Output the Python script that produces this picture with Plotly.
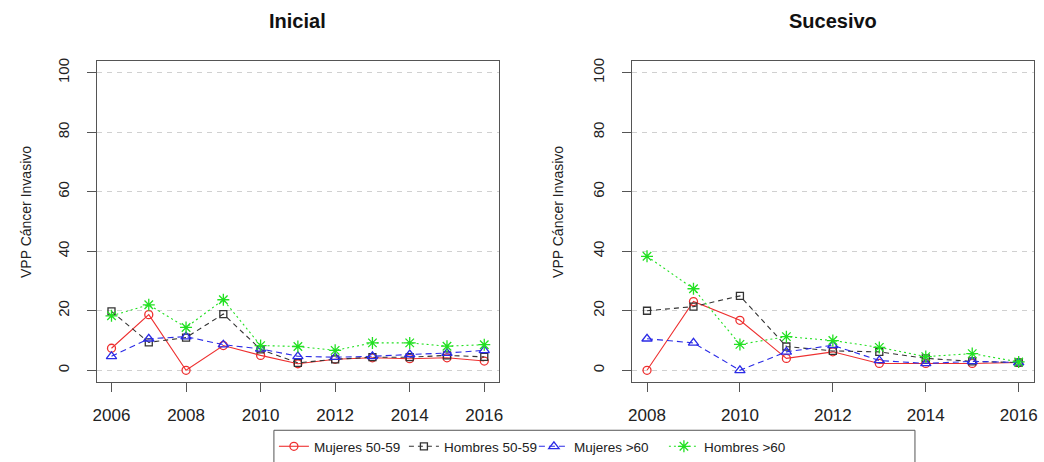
import plotly.graph_objects as go

W, H = 1044, 462

# Years per panel
years_inicial = [2006, 2007, 2008, 2009, 2010, 2011, 2012, 2013, 2014, 2015, 2016]
years_sucesivo = [2008, 2009, 2010, 2011, 2012, 2013, 2014, 2015, 2016]

# VPP (%) — cribado inicial
ini_mujeres_50_59 = [7.4, 18.7, 0.0, 8.3, 5.0, 2.2, 3.7, 4.2, 3.9, 4.2, 3.1]
ini_hombres_50_59 = [19.8, 9.4, 11.0, 18.9, 7.0, 2.5, 3.7, 4.4, 4.4, 5.0, 4.5]
ini_mujeres_60 = [4.7, 10.6, 11.3, 8.6, 7.2, 4.7, 4.4, 4.7, 5.3, 5.8, 6.7]
ini_hombres_60 = [18.3, 22.0, 14.4, 23.7, 8.3, 8.0, 6.7, 9.2, 9.2, 8.1, 8.6]

# VPP (%) — cribado sucesivo
suc_mujeres_50_59 = [0.0, 23.1, 16.8, 4.0, 6.2, 2.3, 2.3, 2.3, 2.6]
suc_hombres_50_59 = [20.0, 21.4, 25.0, 8.0, 6.5, 6.2, 4.0, 3.0, 2.6]
suc_mujeres_60 = [10.6, 9.2, 0.0, 6.2, 8.4, 3.3, 2.3, 3.0, 2.6]
suc_hombres_60 = [38.3, 27.4, 8.7, 11.3, 10.0, 7.7, 4.6, 5.6, 2.8]

series_names = ["Mujeres 50-59", "Hombres 50-59", "Mujeres >60", "Hombres >60"]
y_ticks = [0, 20, 40, 60, 80, 100]

FONT = "Liberation Sans, Arial, sans-serif"
styles = [
    dict(color="#EE3030", dash="solid", symbol="circle-open", size=8),
    dict(color="#333333", dash="5px,4px", symbol="square-open", size=7),
    dict(color="#2B2BE6", dash="6px,4px", symbol="triangle-up-open", size=9),
    dict(color="#22E022", dash="2px,3px", symbol="asterisk-open", size=10),
]


def px_x(x):
    return x / W


def px_y(y):
    return 1 - y / H


fig = go.Figure()

panels = [
    ("x", "y", years_inicial,
     [ini_mujeres_50_59, ini_hombres_50_59, ini_mujeres_60, ini_hombres_60], True),
    ("x2", "y2", years_sucesivo,
     [suc_mujeres_50_59, suc_hombres_50_59, suc_mujeres_60, suc_hombres_60], False),
]

for xa, ya, yrs, series, show in panels:
    for name, vals, st in zip(series_names, series, styles):
        fig.add_trace(go.Scatter(
            x=yrs, y=vals, name=name, xaxis=xa, yaxis=ya,
            mode="lines+markers", showlegend=show,
            line=dict(color=st["color"], dash=st["dash"], width=1.1),
            marker=dict(symbol=st["symbol"], size=st["size"], color=st["color"],
                        line=dict(color=st["color"], width=1.3)),
        ))

axis_common = dict(
    showline=True, mirror=True, linecolor="#555555", linewidth=1,
    ticks="outside", ticklen=9, tickcolor="#555555", tickwidth=1,
    zeroline=False,
)
x_tickfont = dict(family=FONT, size=17, color="#222222")
y_tickfont = dict(family=FONT, size=15, color="#222222")

x_dom_l = [px_x(93.3), px_x(499)]
x_dom_r = [px_x(633), px_x(1037.5)]
y_dom = [px_y(382.5), px_y(58.3)]


def label(text, x, y, size, angle=0, color="#222222"):
    return dict(text=text, x=px_x(x), y=px_y(y), xref="paper", yref="paper",
                xanchor="center", yanchor="middle", textangle=angle, showarrow=False,
                font=dict(family=FONT, size=size, color=color))


fig.update_layout(
    width=W, height=H,
    margin=dict(l=0, r=0, t=0, b=0),
    paper_bgcolor="white", plot_bgcolor="white",
    font=dict(family=FONT, color="#222222"),
    xaxis=dict(domain=x_dom_l, anchor="y", range=[2005.6, 2016.4],
               tickvals=[2006, 2008, 2010, 2012, 2014, 2016], showgrid=False,
               ticklabelstandoff=8, tickfont=x_tickfont, **axis_common),
    yaxis=dict(domain=y_dom, anchor="x", range=[-4, 104], tickvals=y_ticks,
               tickangle=-90, showgrid=True, gridcolor="#D0D0D0", griddash="5px,5px",
               gridwidth=1, ticklabelstandoff=12, tickfont=y_tickfont, **axis_common),
    xaxis2=dict(domain=x_dom_r, anchor="y2", range=[2007.68, 2016.32],
                tickvals=[2008, 2010, 2012, 2014, 2016], showgrid=False,
                ticklabelstandoff=8, tickfont=x_tickfont, **axis_common),
    yaxis2=dict(domain=y_dom, anchor="x2", range=[-4, 104], tickvals=y_ticks,
                tickangle=-90, showgrid=True, gridcolor="#D0D0D0", griddash="5px,5px",
                gridwidth=1, ticklabelstandoff=12, tickfont=y_tickfont, **axis_common),
    legend=dict(
        orientation="h", x=px_x(272), y=px_y(432), xanchor="left", yanchor="top",
        bgcolor="rgba(0,0,0,0)", borderwidth=0,
        font=dict(family=FONT, size=13.5, color="#222222"),
        entrywidth=85, entrywidthmode="pixels", tracegroupgap=0,
    ),
    shapes=[
        # legend frame, running past the bottom edge of the page
        dict(type="rect", xref="paper", yref="paper",
             x0=px_x(272), x1=px_x(918), y0=px_y(475), y1=px_y(431),
             line=dict(color="#555555", width=1), fillcolor="white", layer="below"),
    ],
    annotations=[
        label("<b>Inicial</b>", 296, 18, 20, color="#111111"),
        label("<b>Sucesivo</b>", 835, 18, 20, color="#111111"),
        label("VPP Cáncer Invasivo", 22, 211, 14, angle=-90),
        label("VPP Cáncer Invasivo", 558, 211, 14, angle=-90),
    ],
)

fig.write_html("out.html")
